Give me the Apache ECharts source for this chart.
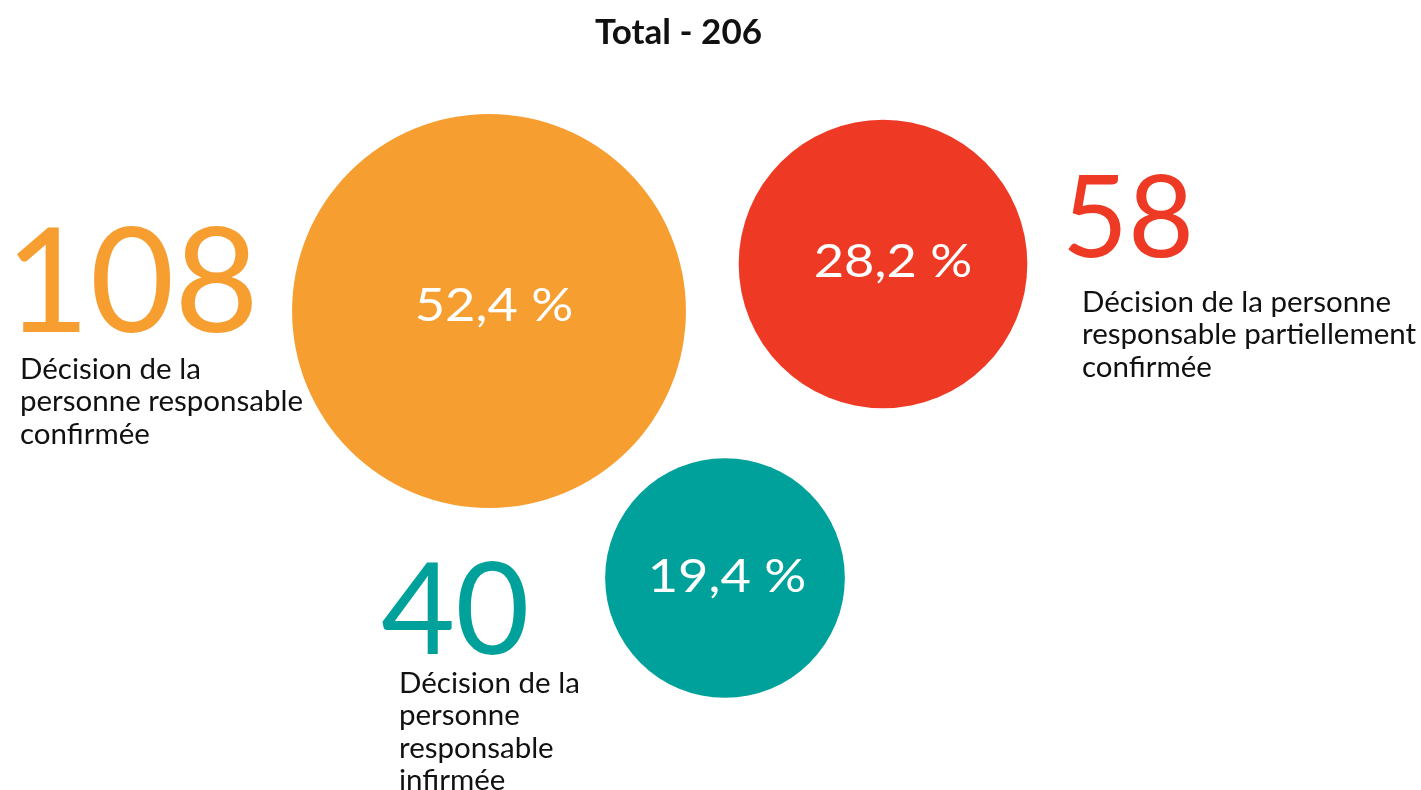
<!DOCTYPE html>
<html>
<head>
<meta charset="utf-8">
<script src="https://cdn.jsdelivr.net/npm/echarts@6/dist/echarts.min.js"></script>
<style>
  html, body { margin: 0; padding: 0; background: #ffffff; }
  #chart { width: 1421px; height: 790px; }
</style>
</head>
<body>
<div id="chart"></div>
<script>
// Decision outcomes
const categories = [
  'Décision de la\npersonne responsable\nconfirmée',
  'Décision de la personne\nresponsable partiellement\nconfirmée',
  'Décision de la\npersonne\nresponsable\ninfirmée'
];
const counts = [108, 58, 40];
const colors = ['#F79E31', '#EE3A24', '#00A19A'];
const titleText = 'Total - ';

// Layout: bubble centres (in the hidden pixel-like axes) and text anchors
const layout = {
  bubbleScale: 37.9,
  centres: [[489, 311], [883, 264], [725, 578]],
  pctOffset: [[5, -5], [10, -2], [2, -1]],
  numberPos: [{ x: 5, y: 285, size: 146 }, { x: 1062, y: 220, size: 114 }, { x: 381, y: 613, size: 128 }],
  textPos: [{ x: 20, y: 353 }, { x: 1082, y: 286 }, { x: 399, y: 667 }]
};

const total = counts.reduce((a, b) => a + b, 0);
const FONT = 'Lato, "Noto Sans", sans-serif';

const chart = echarts.init(document.getElementById('chart'));

const data = counts.map((v, i) => ({
  value: [layout.centres[i][0], layout.centres[i][1], v],
  itemStyle: { color: colors[i], opacity: 1 }
}));

chart.setOption({
  animation: false,
  title: {
    text: titleText + total,
    left: 590,
    top: 10,
    textStyle: { fontFamily: FONT, fontWeight: 'bold', fontSize: 35, color: '#111111' }
  },
  grid: { left: 0, right: 0, top: 0, bottom: 0 },
  xAxis: { type: 'value', min: 0, max: 1421, show: false },
  yAxis: { type: 'value', min: 0, max: 790, inverse: true, show: false },
  series: [{
    type: 'scatter',
    data: data,
    symbol: 'circle',
    symbolSize: d => layout.bubbleScale * Math.sqrt(d[2]),
    label: { show: false },
    emphasis: { disabled: true },
    z: 2
  }]
});

// Text: big counts, descriptions and the share of each bubble
const graphics = [];
counts.forEach((v, i) => {
  graphics.push({
    type: 'text',
    x: layout.numberPos[i].x,
    y: layout.numberPos[i].y,
    style: {
      text: String(v),
      fill: colors[i],
      font: 'normal ' + layout.numberPos[i].size + 'px ' + FONT,
      textAlign: 'left',
      textVerticalAlign: 'middle'
    }
  });
  graphics.push({
    type: 'text',
    x: layout.textPos[i].x,
    y: layout.textPos[i].y,
    style: {
      text: categories[i],
      fill: '#111111',
      font: 'normal 29.5px ' + FONT,
      lineHeight: 32.5,
      textAlign: 'left',
      textVerticalAlign: 'top'
    }
  });
  const p = chart.convertToPixel({ seriesIndex: 0 }, data[i].value.slice(0, 2));
  graphics.push({
    type: 'text',
    z: 100,
    x: p[0] + layout.pctOffset[i][0],
    y: p[1] + layout.pctOffset[i][1],
    scaleX: 1.14,
    style: {
      text: (v / total * 100).toFixed(1).replace('.', ',') + ' %',
      fill: '#ffffff',
      font: 'normal 46px ' + FONT,
      textAlign: 'center',
      textVerticalAlign: 'middle'
    }
  });
});

chart.setOption({ graphic: graphics });
</script>
</body>
</html>
